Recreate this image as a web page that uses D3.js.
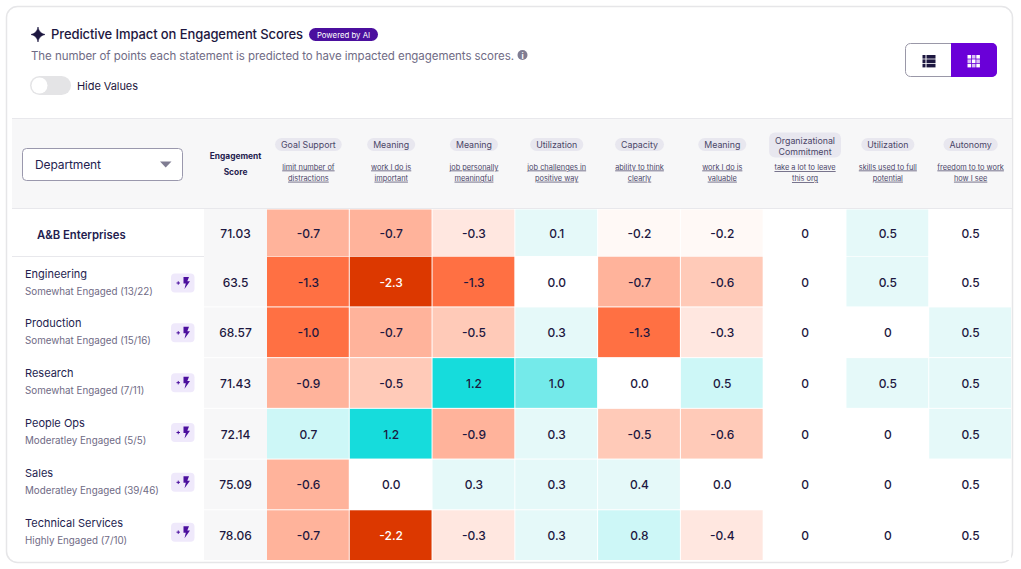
<!DOCTYPE html>
<html><head><meta charset="utf-8">
<script src="https://cdn.jsdelivr.net/npm/d3@7"></script>
<style>html,body{margin:0;padding:0;background:#fff}svg{display:block}text{font-family:Inter,Lato,sans-serif}</style>
</head><body><svg id="c" width="1021" height="569"></svg>
<script>
const categories=["Goal Support","Meaning","Meaning","Utilization","Capacity","Meaning","Organizational|Commitment","Utilization","Autonomy"];
const statements=["limit number of|distractions","work I do is|important","job personally|meaningful","job challenges in|positive way","ability to think|clearly","work I do is|valuable","take a lot to leave|this org","skills used to full|potential","freedom to to work|how I see"];
const groups=["Engineering","Production","Research","People Ops","Sales","Technical Services"];
const groupSubs=["Somewhat Engaged (13/22)","Somewhat Engaged (15/16)","Somewhat Engaged (7/11)","Moderatley Engaged (5/5)","Moderatley Engaged (39/46)","Highly Engaged (7/10)"];
const summaryName="A&B Enterprises";
const summaryScore="71.03";
const summaryLabels=["-0.7","-0.7","-0.3","0.1","-0.2","-0.2","0","0.5","0.5"];
const summaryShades=[-0.7,-0.7,-0.3,0.1,-0.2,-0.2,0,0.46,0.04];
const scores=["63.5","68.57","71.43","72.14","75.09","78.06"];
const labels=[
["-1.3","-2.3","-1.3","0.0","-0.7","-0.6","0","0.5","0.5"],
["-1.0","-0.7","-0.5","0.3","-1.3","-0.3","0","0","0.5"],
["-0.9","-0.5","1.2","1.0","0.0","0.5","0","0.5","0.5"],
["0.7","1.2","-0.9","0.3","-0.5","-0.6","0","0","0.5"],
["-0.6","0.0","0.3","0.3","0.4","0.0","0","0","0.5"],
["-0.7","-2.2","-0.3","0.3","0.8","-0.4","0","0","0.5"]];
// estimated unrounded values: the source shades some equal labels differently
const shades=[
[-1.3,-2.3,-1.3,0,-0.7,-0.58,0,0.46,0.04],
[-1.0,-0.7,-0.5,0.3,-1.3,-0.3,0,0,0.46],
[-0.9,-0.5,1.2,1.0,0,0.52,0,0.46,0.46],
[0.7,1.2,-0.9,0.3,-0.5,-0.58,0,0,0.46],
[-0.64,0,0.3,0.3,0.4,0,0,0,0.04],
[-0.7,-2.2,-0.3,0.3,0.8,-0.4,0,0,0.04]];
const binEdges=[-2,-0.95,-0.6,-0.45,-0.25,-0.05,0.05,0.5,0.95,1.1];
const binColors=["#dc3800","#ff7043","#ffb39b","#ffcab8","#ffe7e0","#fff9f6","#ffffff","#e5f9f9","#cdf7f7","#74eaea","#16dcdc"];

const svg=d3.select("#c");
const color=d3.scaleThreshold().domain(binEdges).range(binColors);
const x=d3.scaleBand().domain(d3.range(categories.length)).range([267,1012]);
const y=d3.scaleBand().domain(d3.range(groups.length)).range([256.7,561]);
const yLabel=d3.scaleBand().domain(d3.range(groups.length)).range([257,556]);
const ink="#1d1740",sub="#6f6b85",dark="#241d4f";

svg.append("rect").attr("x",6.5).attr("y",6.5).attr("width",1006).attr("height",556).attr("rx",11).attr("fill","#fff").attr("stroke","#e6e6e8").attr("stroke-width",1.5);
svg.append("rect").attr("x",12).attr("y",118).attr("width",1000).attr("height",91).attr("fill","#f7f7f8");
svg.append("line").attr("x1",12).attr("x2",1012).attr("y1",118.5).attr("y2",118.5).attr("stroke","#e8e8ec");
svg.append("line").attr("x1",12).attr("x2",1012).attr("y1",208.5).attr("y2",208.5).attr("stroke","#e8e8ec");
svg.append("rect").attr("x",204).attr("y",209).attr("width",63).attr("height",352.5).attr("fill","#f7f7f8");

// title block
svg.append("path").attr("transform","translate(38,34.5)").attr("d","M0,-7.5C0.8,-3 3,-1 7,0C3,1 0.8,3 0,7.5C-0.8,3 -3,1 -7,0C-3,-1 -0.8,-3 0,-7.5Z").attr("fill",ink).attr("stroke",ink).attr("stroke-width",0.6);
svg.append("text").attr("x",51).attr("y",39).attr("font-size",13).attr("font-weight",500).attr("fill",ink).attr("textLength",252).attr("lengthAdjust","spacing").text("Predictive Impact on Engagement Scores");
svg.append("rect").attr("x",309).attr("y",28).attr("width",69).attr("height",13).attr("rx",6.5).attr("fill","#4b0f9e");
svg.append("text").attr("x",343.5).attr("y",37.5).attr("text-anchor","middle").attr("font-size",7.8).attr("fill","#fff").text("Powered by AI");
svg.append("text").attr("x",31).attr("y",59.5).attr("font-size",11.5).attr("fill",sub).attr("textLength",483).attr("lengthAdjust","spacing").text("The number of points each statement is predicted to have impacted engagements scores.");
svg.append("circle").attr("cx",522.5).attr("cy",55).attr("r",5).attr("fill","#7f7c92");
svg.append("text").attr("x",522.5).attr("y",58.5).attr("text-anchor","middle").attr("font-size",8).attr("font-weight",700).attr("fill","#fff").text("i");
// toggle
svg.append("rect").attr("x",30).attr("y",76).attr("width",41).attr("height",19).attr("rx",9.5).attr("fill","#e4e4e6");
svg.append("circle").attr("cx",39.5).attr("cy",85.5).attr("r",8).attr("fill","#fff");
svg.append("text").attr("x",77).attr("y",89.5).attr("font-size",11).attr("fill",ink).attr("textLength",61).attr("lengthAdjust","spacing").text("Hide Values");
// view switch
svg.append("rect").attr("x",905.5).attr("y",43.5).attr("width",91).attr("height",33).attr("rx",5).attr("fill","#fff").attr("stroke","#9a98a8");
svg.append("path").attr("d","M951,43H992a5,5 0 0 1 5,5V72a5,5 0 0 1 -5,5H951Z").attr("fill","#6a00d8");
[0,1,2].forEach(i=>{
 const yy=55+i*4.4;
 svg.append("rect").attr("x",922.5).attr("y",yy).attr("width",3).attr("height",3.6).attr("fill",ink);
 svg.append("rect").attr("x",926.5).attr("y",yy).attr("width",9).attr("height",3.6).attr("fill",ink);
 [0,1,2].forEach(j=>svg.append("rect").attr("x",967.5+j*4.4).attr("y",yy).attr("width",3.6).attr("height",3.6).attr("fill","#fff").attr("opacity",(i+j)%2?0.75:1));
});
// dropdown
svg.append("rect").attr("x",22.5).attr("y",148.5).attr("width",160).attr("height",32).attr("rx",4).attr("fill","#fff").attr("stroke","#9a98ad");
svg.append("text").attr("x",35).attr("y",169).attr("font-size",12).attr("fill",dark).attr("textLength",66).attr("lengthAdjust","spacing").text("Department");
svg.append("path").attr("d","M160,161.5H171.5L165.7,167.5Z").attr("fill","#7f7c92");

svg.selectAll(null).data(["Engagement","Score"]).join("text").attr("x",235.5).attr("y",(d,i)=>159+i*16).attr("text-anchor","middle").attr("font-size",8.4).attr("font-weight",700).attr("fill",dark).text(d=>d);

// column headers
const heads=svg.append("g").selectAll("g").data(categories).join("g").attr("transform",(d,i)=>`translate(${x(i)+x.bandwidth()/2},0)`);
heads.each(function(d,i){
 const g=d3.select(this),parts=d.split("|"),two=parts.length>1;
 const pill=g.append("rect");
 const tx=parts.map((p,k)=>g.append("text").attr("y",two?144+k*11:148).attr("text-anchor","middle").attr("font-size",8.8).attr("fill","#4b4668").text(p));
 const w=d3.max(tx,t=>t.node().getComputedTextLength())+12;
 pill.attr("x",-w/2).attr("y",two?132.5:138).attr("width",w).attr("height",two?25:13).attr("rx",two?6:6.5).attr("fill","#e8e7ef");
 statements[i].split("|").forEach((p,k)=>g.append("text").attr("y",(two?170:169.5)+k*11.2).attr("text-anchor","middle").attr("font-size",7.4).attr("fill","#4b4668").attr("text-decoration","underline").text(p));
});

function cells(sel,vals,tones,yy,h){
 sel.selectAll("rect").data(tones).join("rect").attr("x",(d,c)=>x(c)).attr("y",yy).attr("width",x.bandwidth()-1).attr("height",h-1).attr("fill",d=>color(d));
 sel.selectAll("text").data(vals).join("text").attr("x",(d,c)=>x(c)+x.bandwidth()/2).attr("y",yy+h/2+4.5).attr("text-anchor","middle").attr("font-size",12).attr("font-weight",500).attr("fill",(d,c)=>tones[c]<=-2?"#fff":ink).text(d=>d);
}
// summary row
cells(svg.append("g"),summaryLabels,summaryShades,209.5,47.5);
svg.append("text").attr("x",37).attr("y",239).attr("font-size",11.3).attr("font-weight",600).attr("fill",dark).text(summaryName);
svg.append("text").attr("x",235.5).attr("y",238).attr("text-anchor","middle").attr("font-size",12).attr("font-weight",500).attr("fill",ink).text(summaryScore);
svg.append("line").attr("x1",12).attr("x2",204).attr("y1",256.5).attr("y2",256.5).attr("stroke","#e8e8ec");

// detail rows
groups.forEach((name,r)=>{
 const t=y(r),bw=y.bandwidth(),lt=yLabel(r),g=svg.append("g");
 cells(g.append("g"),labels[r],shades[r],t,bw);
 g.append("text").attr("x",25).attr("y",lt+20.5).attr("font-size",11).attr("fill",dark).text(name);
 g.append("text").attr("x",25).attr("y",lt+37.5).attr("font-size",9.8).attr("fill",sub).text(groupSubs[r]);
 g.append("text").attr("x",235.5).attr("y",t+bw/2+4.5).attr("text-anchor","middle").attr("font-size",12).attr("font-weight",500).attr("fill",ink).text(scores[r]);
 g.append("line").attr("x1",204).attr("x2",267).attr("y1",t+bw-0.5).attr("y2",t+bw-0.5).attr("stroke","#fff");
 const b=g.append("g").attr("transform",`translate(171,${lt+16.5})`);
 b.append("rect").attr("width",23.5).attr("height",19).attr("rx",4).attr("fill","#efe9fb");
 b.append("path").attr("d","M5.5,9.5H9M7.25,7.8V11.2").attr("stroke","#4b0f9e").attr("fill","none");
 b.append("path").attr("d","M12.5,3.5H18L16.3,7.8H19L13.5,15.5L14.8,10H12.5Z").attr("fill","#4b0f9e");
});
</script></body></html>
